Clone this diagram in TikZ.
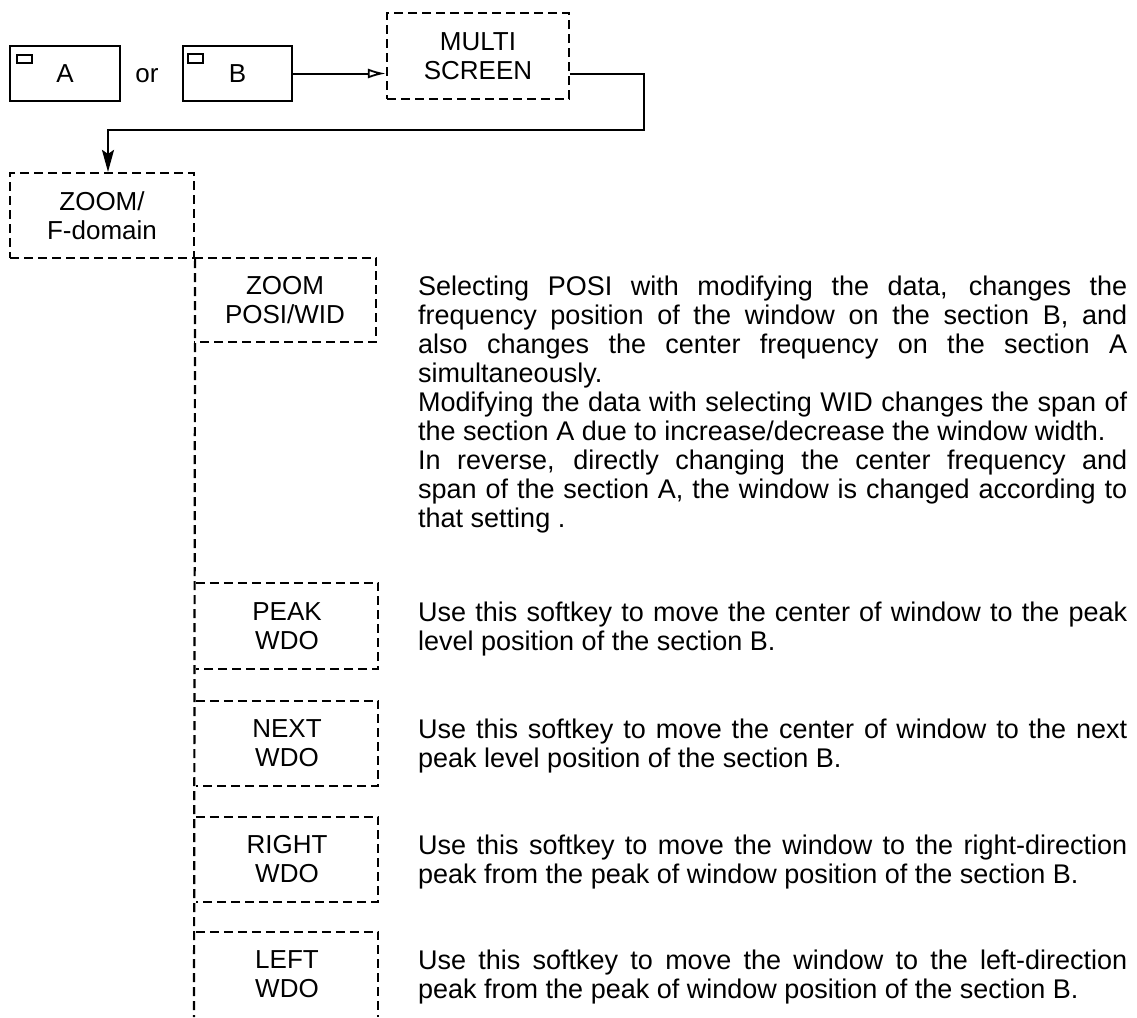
\documentclass[tikz,border=0pt]{standalone}
\usepackage{fontspec}
\setmainfont{Liberation Sans}
\usetikzlibrary{arrows.meta}
\newcommand{\dfont}{\fontsize{27}{29}\selectfont}
\newcommand{\bfnt}{\fontsize{26}{29}\selectfont}
\newcommand{\jline}[1]{\hbox to \linewidth{#1}}
\newcommand{\lline}[1]{\hbox{#1}}
\begin{document}
\begin{tikzpicture}[x=1pt,y=-1pt,
  dsh/.style={dash pattern=on 9pt off 5pt, line width=2.2pt},
  keybox/.style={draw, line width=2.4pt, minimum width=110pt, minimum height=55pt, inner sep=0pt, font=\bfnt},
  lbl/.style={inner sep=0pt, align=center, font=\bfnt},
  desc/.style={anchor=base west, inner sep=0pt, font=\dfont},
  conn/.style={line width=2pt},
  ]
\useasboundingbox (0,0) rectangle (1137,1017);

% key boxes
\node[keybox] (ka) at (65,73.5) {A};
\draw[line width=1.8pt] (17,55) rectangle (32,63);
\node[lbl] (or) at (147,76) {or};
\node[keybox, minimum width=109pt] (kb) at (237.5,73.5) {B};
\draw[line width=1.8pt] (188,54) rectangle (203,63);

% MULTI SCREEN
\node[lbl, draw, dsh, minimum width=182pt, minimum height=86pt] (ms) at (478,56) {MULTI\\SCREEN};
\draw[conn, -{Latex[open, length=18pt, width=10pt, line width=1.8pt]}] (kb.east) -- (kb.east -| ms.west);

% ZOOM/F-domain
\node[lbl, draw, dsh, minimum width=184pt, minimum height=85pt] (fd) at (102,215.5) {ZOOM/\\F-domain};
\coordinate (bend) at (108,130);
\draw[conn, -{Stealth[length=22pt, width=12pt, inset=4pt]}] (ms.east |- kb.east) -- ++(74,0) |- (bend) -- (bend |- fd.north);

% vertical dashed line
\coordinate (vbot) at (194,1017);
\draw[dsh] (fd.south east) -- (vbot);

% sub boxes
\node[lbl, minimum width=182pt, minimum height=84pt] (zp) at (285,300) {ZOOM\\POSI/WID};
\draw[dsh] (zp.north west) -- (zp.north east) -- (zp.south east) -- (zp.south west);
\node[lbl, minimum width=182pt, minimum height=86pt] (pk) at (287,626) {PEAK\\WDO};
\draw[dsh] (pk.north west) -- (pk.north east) -- (pk.south east) -- (pk.south west);
\node[lbl, minimum width=182pt, minimum height=85pt] (nx) at (287,743.5) {NEXT\\WDO};
\draw[dsh] (nx.north west) -- (nx.north east) -- (nx.south east) -- (nx.south west);
\node[lbl, minimum width=182pt, minimum height=85pt] (rt) at (287,859.5) {RIGHT\\WDO};
\draw[dsh] (rt.north west) -- (rt.north east) -- (rt.south east) -- (rt.south west);
\node[lbl, minimum width=182pt, minimum height=85pt] (lf) at (287,974.5) {LEFT\\WDO};
\draw[dsh] (lf.north west) -- (lf.north east) -- (lf.south east);

% descriptions
\node[desc] (d1) at (418,295) {\parbox[t]{709pt}{%
\jline{Selecting POSI with modifying the data, changes the}
\jline{frequency position of the window on the section B, and}
\jline{also changes the center frequency on the section A}
\lline{simultaneously.}
\jline{Modifying the data with selecting WID changes the span of}
\lline{the section A due to increase/decrease the window width.}
\jline{In reverse, directly changing the center frequency and}
\jline{span of the section A, the window is changed according to}
\lline{that setting .}}};
\node[desc] (d2) at (418,621) {\parbox[t]{709pt}{%
\jline{Use this softkey to move the center of window to the peak}
\lline{level position of the section B.}}};
\node[desc] (d3) at (418,738) {\parbox[t]{709pt}{%
\jline{Use this softkey to move the center of window to the next}
\lline{peak level position of the section B.}}};
\node[desc] (d4) at (418,854) {\parbox[t]{709pt}{%
\jline{Use this softkey to move the window to the right-direction}
\lline{peak from the peak of window position of the section B.}}};
\node[desc] (d5) at (418,969) {\parbox[t]{709pt}{%
\jline{Use this softkey to move the window to the left-direction}
\lline{peak from the peak of window position of the section B.}}};
\end{tikzpicture}
\end{document}
